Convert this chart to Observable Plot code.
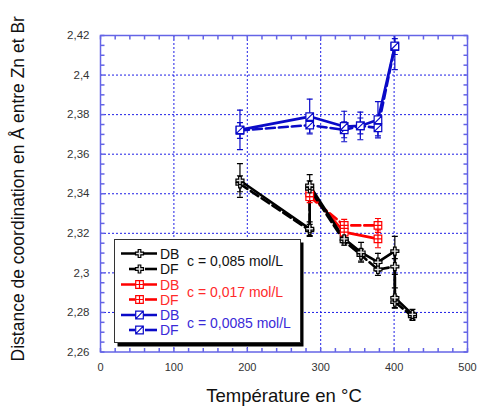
<!DOCTYPE html>
<html><head><meta charset="utf-8">
<script src="https://cdn.jsdelivr.net/npm/d3@7"></script>
<script src="https://cdn.jsdelivr.net/npm/@observablehq/plot@0.6"></script>
<style>
html,body{margin:0;padding:0;background:#fff;}
#wrap{position:relative;width:479px;height:407px;font-family:"Liberation Sans",Arial,sans-serif;}
#legend{position:absolute;left:0;top:0;pointer-events:none;}
</style></head><body><div id="wrap"></div>
<script>
// ---- tick labels ----
const tempTicks = [0, 100, 200, 300, 400, 500];
const distTicks = [2.26, 2.28, 2.30, 2.32, 2.34, 2.36, 2.38, 2.40, 2.42];
const tempGrid = [100, 200, 300, 400];
const distGrid = [2.28, 2.30, 2.32, 2.34, 2.36, 2.38, 2.40];
const tempMinor = d3.range(0, 501, 20);
const distMinor = d3.range(0, 33).map(i => +(2.26 + i * 0.005).toFixed(3));

// ---- series: c = 0,085 mol/L (black) ----
const blackT     = [190, 285, 285, 332, 355, 378, 401, 401, 425];
const blackDB    = [2.3467, 2.3223, 2.3442, 2.3172, 2.3104, 2.3054, 2.3110, 2.2874, 2.2790];
const blackDBerr = [0.0085, 0.0035, 0.0055, 0.002, 0.005, 0.0045, 0.0075, 0.005, 0.0025];
const blackDF    = [2.3450, 2.3215, 2.3425, 2.3160, 2.3090, 2.3017, 2.3032, 2.2852, 2.2780];
const blackDFerr = [0.004, 0.003, 0.004, 0.002, 0.003, 0.003, 0.004, 0.003, 0.002];
// ---- series: c = 0,017 mol/L (red) ----
const redT     = [285, 332, 378];
const redDB    = [2.3405, 2.3206, 2.3172];
const redDBerr = [0.004, 0.003, 0.0045];
const redDF    = [2.3385, 2.3240, 2.3240];
const redDFerr = [0.003, 0.003, 0.0035];
// ---- series: c = 0,0085 mol/L (blue) ----
const blueT     = [190, 285, 332, 354, 378, 401];
const blueDB    = [2.3723, 2.3790, 2.3740, 2.3743, 2.3774, 2.4147];
const blueDBerr = [0.010, 0.0088, 0.0077, 0.007, 0.0092, 0.012];
const blueDF    = [2.3720, 2.3747, 2.3723, 2.3743, 2.3733, 2.4144];
const blueDFerr = [0.004, 0.004, 0.004, 0.004, 0.004, 0.004];

const BLACK = "#000000", RED = "#ff0000", BLUE = "#0a0ac8";
const FRAME = "#6464e6", GRID = "#1e1ee6";

const rows = (T, D, E) => T.map((t, i) => ({T: t, D: D[i], E: E[i]}));

// custom symbols
const symPlus = {draw(c){const a=1.3,b=4;
  c.moveTo(-a,-b);c.lineTo(a,-b);c.lineTo(a,-a);c.lineTo(b,-a);c.lineTo(b,a);c.lineTo(a,a);
  c.lineTo(a,b);c.lineTo(-a,b);c.lineTo(-a,a);c.lineTo(-b,a);c.lineTo(-b,-a);c.lineTo(-a,-a);c.closePath();}};
const symSqGrid = {draw(c){const s=3.8;c.moveTo(-s,-s);c.lineTo(s,-s);c.lineTo(s,s);c.lineTo(-s,s);c.closePath();
  c.moveTo(0,-s);c.lineTo(0,s);c.moveTo(-s,0);c.lineTo(s,0);}};
const symSqSlash = {draw(c){const s=3.8;c.moveTo(-s,-s);c.lineTo(s,-s);c.lineTo(s,s);c.lineTo(-s,s);c.closePath();
  c.moveTo(-s,s);c.lineTo(s,-s);}};
const symCap = {draw(c){c.moveTo(-3,0);c.lineTo(3,0);}};
const tickSym = (dx, dy, len) => ({draw(c){c.moveTo(0,0);c.lineTo(dx*len, dy*len);}});

const series = [
  {data: rows(blueT, blueDF, blueDFerr), color: BLUE, dash: "9,4", sym: symSqSlash, fill: "white"},
  {data: rows(blueT, blueDB, blueDBerr), color: BLUE, dash: null, sym: symSqSlash, fill: "white"},
  {data: rows(redT, redDF, redDFerr), color: RED, dash: "9,4", sym: symSqGrid, fill: "white"},
  {data: rows(redT, redDB, redDBerr), color: RED, dash: null, sym: symSqGrid, fill: "white"},
  {data: rows(blackT, blackDF, blackDFerr), color: BLACK, dash: "9,4", sym: symPlus, fill: "#e4e4e4"},
  {data: rows(blackT, blackDB, blackDBerr), color: BLACK, dash: null, sym: symPlus, fill: "#e4e4e4"}
];

const marks = [
  Plot.gridX(tempGrid, {stroke: GRID, strokeOpacity: 1, strokeDasharray: "2,2", strokeWidth: 1}),
  Plot.gridY(distGrid, {stroke: GRID, strokeOpacity: 1, strokeDasharray: "2,2", strokeWidth: 1}),
  Plot.dot(distMinor, {y: d => d, frameAnchor: "left", symbol: tickSym(1,0,4), stroke: FRAME}),
  Plot.dot(distMinor, {y: d => d, frameAnchor: "right", symbol: tickSym(-1,0,4), stroke: FRAME}),
  Plot.dot(tempMinor, {x: d => d, frameAnchor: "bottom", symbol: tickSym(0,-1,4), stroke: FRAME}),
  Plot.dot(tempMinor, {x: d => d, frameAnchor: "top", symbol: tickSym(0,1,4), stroke: FRAME}),
  Plot.axisX(tempTicks, {tickSize: 0, tickPadding: 11, fontSize: 11, fill: "#333", label: null, tickFormat: d => String(d)}),
  Plot.axisY(distTicks, {tickSize: 0, tickPadding: 11, fontSize: 11.5, fill: "#333", label: null,
    tickFormat: d => String(+d.toFixed(2)).replace(".", ",")}),
  Plot.text(["Température en °C"], {frameAnchor: "bottom", dy: 50, fontSize: 18.5, fill: "#111", textAnchor: "middle"}),
  Plot.text(["Distance de coordination en Å entre Zn et Br"], {frameAnchor: "left", dx: -82, dy: -5, rotate: -90, fontSize: 17.5, fill: "#111", textAnchor: "middle"})
];
for (const s of series) {
  marks.push(Plot.line(s.data, {x: "T", y: "D", stroke: s.color, strokeWidth: 2.6, strokeDasharray: s.dash, clip: true}));
}
for (const s of series) {
  marks.push(Plot.ruleX(s.data, {x: "T", y1: d => d.D - d.E, y2: d => d.D + d.E, stroke: s.color, strokeWidth: 1.2, clip: true}));
  marks.push(Plot.dot(s.data, {x: "T", y: d => d.D + d.E, symbol: symCap, stroke: s.color, strokeWidth: 1.2, clip: true}));
  marks.push(Plot.dot(s.data, {x: "T", y: d => d.D - d.E, symbol: symCap, stroke: s.color, strokeWidth: 1.2, clip: true}));
}
for (const s of series) {
  marks.push(Plot.dot(s.data, {x: "T", y: "D", symbol: s.sym, stroke: s.color, fill: s.fill, strokeWidth: 1.2}));
}
marks.push(Plot.frame({stroke: FRAME, strokeWidth: 1.5}));

const chart = Plot.plot({
  width: 479, height: 407,
  marginLeft: 100, marginRight: 12, marginTop: 35, marginBottom: 55.5,
  x: {domain: [0, 500]},
  y: {domain: [2.26, 2.42]},
  style: {fontFamily: '"Liberation Sans", Arial, sans-serif', background: "white", overflow: "visible"},
  marks
});
const wrap = document.getElementById("wrap");
wrap.appendChild(chart);

// ---- legend (overlay) ----
const legendEntries = [
  {name: "DB", color: BLACK, text: "#111", dash: false, sym: symPlus, fill: "#e4e4e4"},
  {name: "DF", color: BLACK, text: "#111", dash: true, sym: symPlus, fill: "#e4e4e4"},
  {name: "DB", color: RED, text: "#ff2a2a", dash: false, sym: symSqGrid, fill: "white"},
  {name: "DF", color: RED, text: "#ff2a2a", dash: true, sym: symSqGrid, fill: "white"},
  {name: "DB", color: BLUE, text: "#3a2ad8", dash: false, sym: symSqSlash, fill: "white"},
  {name: "DF", color: BLUE, text: "#3a2ad8", dash: true, sym: symSqSlash, fill: "white"}
];
const concLabels = ["c = 0,085 mol/L", "c = 0,017 mol/L", "c = 0,0085 mol/L"];
const concColors = ["#111", "#ff2a2a", "#3a2ad8"];
const rowY = [253.5, 269, 284.5, 299.5, 315, 330];

const svg = d3.select(wrap).append("svg").attr("id", "legend").attr("width", 479).attr("height", 407)
  .style("font-family", '"Liberation Sans", Arial, sans-serif');
svg.append("rect").attr("x", 117.5).attr("y", 242.5).attr("width", 186).attr("height", 104).attr("fill", "#000");
svg.append("rect").attr("x", 114.5).attr("y", 239.5).attr("width", 186).attr("height", 103)
  .attr("fill", "white").attr("stroke", "#333").attr("stroke-width", 1);
legendEntries.forEach((e, i) => {
  const y = rowY[i];
  if (e.dash) {
    svg.append("line").attr("x1", 129).attr("x2", 135).attr("y1", y).attr("y2", y).attr("stroke", e.color).attr("stroke-width", 2.6);
    svg.append("line").attr("x1", 145).attr("x2", 157).attr("y1", y).attr("y2", y).attr("stroke", e.color).attr("stroke-width", 2.6);
  } else {
    svg.append("line").attr("x1", 121).attr("x2", 157).attr("y1", y).attr("y2", y).attr("stroke", e.color).attr("stroke-width", 2.6);
  }
  svg.append("path").attr("d", d3.symbol(e.sym)()).attr("transform", `translate(139.5,${y})`)
    .attr("fill", e.fill).attr("stroke", e.color).attr("stroke-width", 1.2);
  svg.append("text").attr("x", 160).attr("y", y).attr("dy", "0.36em").attr("font-size", 14).attr("fill", e.text).text(e.name);
});
concLabels.forEach((t, i) => {
  svg.append("text").attr("x", 187).attr("y", (rowY[2*i] + rowY[2*i+1]) / 2).attr("dy", "0.36em")
    .attr("font-size", 14).attr("fill", concColors[i]).text(t);
});
</script></body></html>
